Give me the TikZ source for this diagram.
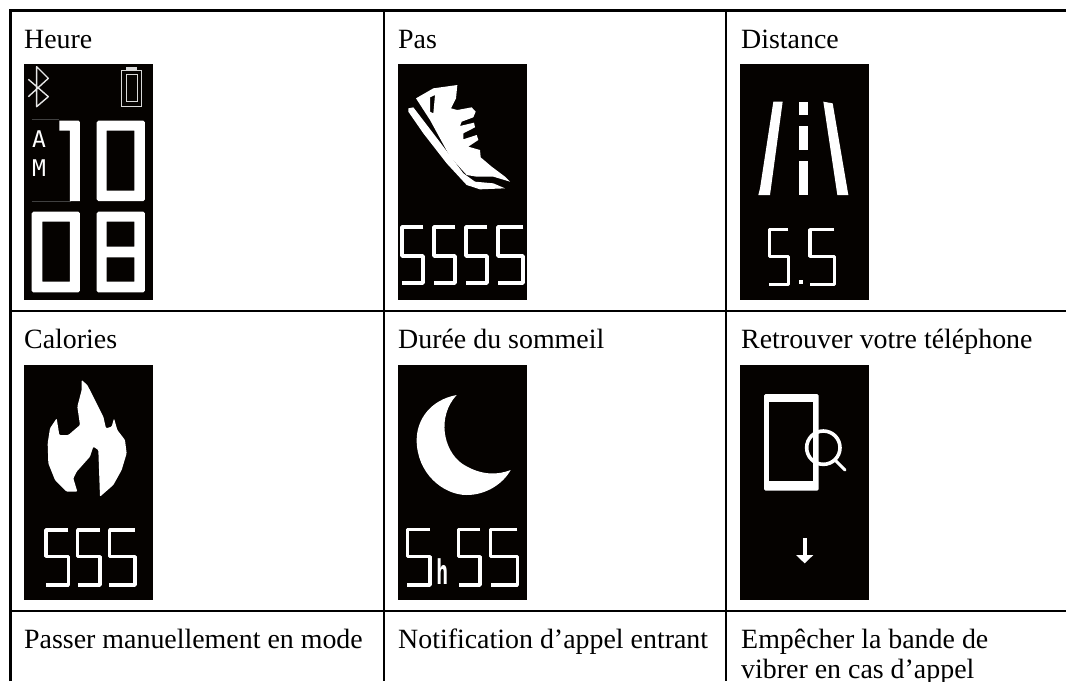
\documentclass[tikz,border=0pt]{standalone}
\usepackage{fontspec}
\setmainfont{Liberation Serif}
\newfontfamily\lcdfont{DejaVu Sans Mono}
\definecolor{screenblack}{HTML}{050200}
\newcommand{\lcdfive}[5]{\draw[lcd] (#2,#3) -- (#1,#3) -- (#1,#4) -- (#2,#4) -- (#2,#5) -- (#1,#5);}
\tikzset{
  grid/.style={line width=2.3pt,black},
  label/.style={anchor=base west,inner sep=0pt,font=\fontsize{27.9}{32}\selectfont,text=black},
  screen/.style={fill=screenblack,draw=none},
  zoomed/.style={x=0.33333pt,y=-0.33333pt},
  lcd/.style={draw=white,line width=3.3pt,line join=bevel,line cap=butt},
  thin lcd/.style={draw=white!90!black,line width=1.4pt,line join=round},
  glyph/.style={fill=white,even odd rule,draw=none},
  lcd text/.style={inner sep=0pt,text=white,font=\lcdfont\fontsize{23}{23}\selectfont}
}
\begin{document}
\begin{tikzpicture}[x=1pt,y=-1pt]
\useasboundingbox (0,0) rectangle (1066,681);
\clip (0,0) rectangle (1066,681);
\fill[white] (0,0) rectangle (1066,681);

% grid
\draw[grid] (10.5,681) -- (10.5,10.5) -- (1066,10.5);
\draw[grid] (383.7,10.5) -- (383.7,681);
\draw[grid] (725.7,10.5) -- (725.7,681);
\draw[grid] (10.5,310.7) -- (1066,310.7);
\draw[grid] (10.5,610.7) -- (1066,610.7);

% labels
\node[label] (heure) at (24,48) {Heure};
\node[label] (pas) at (398,48) {Pas};
\node[label] (distance) at (741,48) {Distance};
\node[label] (calories) at (24,348) {Calories};
\node[label] (sommeil) at (398,348) {Durée du sommeil};
\node[label] (retrouver) at (741,348) {Retrouver votre téléphone};
\node[label] (passer) at (24,648) {Passer manuellement en mode};
\node[label] (notif) at (398,648) {Notification d’appel entrant};
\node[label] (empecher) at (741,648) {Empêcher la bande de};
\node[label] (vibrer) at (741,678) {vibrer en cas d’appel};

% ---- clock
\begin{scope}[shift={(0,0)},zoomed]
\fill[screen] (72,192) rectangle (459,900);
\draw[thin lcd] (85,238) -- (145,290) -- (110,320) -- (110,200) -- (145,235) -- (85,290);
\draw[white!85!black,line width=1.4pt] (365,211) rectangle (425,319);
\draw[white!85!black,line width=0.9pt] (378,222) rectangle (412,305);
\fill[white!85!black] (378,201) rectangle (412,209);
\draw[black!75!white,line width=0.4pt] (95,358) -- (178,358);
\draw[black!75!white,line width=0.4pt] (95,604) -- (210,604) -- (210,392);
\node[lcd text] (a) at (117,416) {A};
\node[lcd text] (m) at (117,505) {M};
\fill[glyph] (178,362) -- (236,362) -- (240,367) -- (240,603) -- (210,603) -- (210,392) -- (178,392) -- cycle;
\fill[glyph] (295,362) -- (430,362) -- (435,367) -- (435,598) -- (430,603) -- (295,603) -- (290,598) -- (290,367) -- cycle
 (320,392) rectangle (403,572);
\fill[glyph] (100,635) -- (235,635) -- (240,640) -- (240,872) -- (235,877) -- (100,877) -- (95,872) -- (95,640) -- cycle
 (127,665) rectangle (210,845);
\fill[glyph] (295,635) -- (430,635) -- (435,640) -- (435,872) -- (430,877) -- (295,877) -- (290,872) -- (290,640) -- cycle
 (320,665) rectangle (403,740) (320,772) rectangle (403,845);
\end{scope}

% ---- steps
\begin{scope}[shift={(380,0)},zoomed]
\fill[screen] (54,192) rectangle (441,900);
\fill[glyph] (108,295) -- (160,265) -- (232,255) -- (228,295) -- (213,325) -- (232,330) -- (275,322) -- (287,335) -- (280,352) -- (245,365) -- (240,378) -- (282,368) -- (285,382) -- (250,400) -- (250,418) -- (290,405) -- (295,420) -- (265,440) -- (300,450) -- (302,472) -- (335,500) -- (375,530) -- (390,545) -- (340,530) -- (290,530) -- (260,525) -- (210,470) -- (150,360) -- cycle
 (150,292) -- (165,285) -- (160,340) -- (150,335) -- cycle;
\fill[white] (85,325) -- (100,322) -- (175,420) -- (250,520) -- (285,545) -- (340,550) -- (375,565) -- (300,568) -- (260,555) -- (200,490) -- (130,400) -- (85,335) -- cycle;
\begin{scope}[lcd/.append style={line width=3.7pt}]
\lcdfive{67}{130}{680}{768}{848}
\lcdfive{163}{226}{680}{768}{848}
\lcdfive{259}{322}{680}{768}{848}
\lcdfive{355}{430}{680}{768}{848}
\end{scope}
\end{scope}

% ---- distance
\begin{scope}[shift={(720,0)},zoomed]
\fill[screen] (60,192) rectangle (447,900);
\fill[white] (160,305) -- (188,305) -- (150,585) -- (115,585) -- (120,565) -- cycle;
\fill[white] (310,305) -- (338,310) -- (385,585) -- (352,585) -- cycle;
\fill[white] (237,305) rectangle (263,345);
\fill[white] (237,378) rectangle (263,450);
\fill[white] (237,482) rectangle (263,585);
\lcdfive{148}{205}{688}{770}{853}
\lcdfive{270}{343}{688}{770}{853}
\fill[white] (238,840) rectangle (248,852);
\end{scope}

% ---- calories
\begin{scope}[shift={(0,300)},zoomed]
\fill[screen] (72,195) rectangle (459,900);
\fill[white,rounded corners=1pt] (245,240) -- (262,255) -- (285,300) -- (310,350) -- (318,385) -- (335,380) -- (342,355) -- (352,390) -- (375,420) -- (380,460) -- (365,510) -- (340,555) -- (300,590) -- (295,450) -- (280,440) -- (270,470) -- (230,515) -- (220,535) -- (232,575) -- (200,575) -- (165,540) -- (145,490) -- (143,430) -- (150,385) -- (170,355) -- (178,405) -- (205,405) -- (240,375) -- (232,320) -- (245,270) -- cycle;
\lcdfive{138}{205}{690}{770}{855}
\lcdfive{233}{300}{690}{770}{855}
\lcdfive{328}{405}{690}{770}{855}
\end{scope}

% ---- sleep
\begin{scope}[shift={(380,300)},zoomed]
\fill[screen] (54,195) rectangle (441,900);
\fill[white] (230,285) .. controls (150,300) and (110,360) .. (110,420) .. controls (110,520) and (190,585) .. (260,585) .. controls (320,585) and (370,550) .. (392,510) .. controls (340,530) and (290,520) .. (245,490) .. controls (190,450) and (170,350) .. (230,285) -- cycle;
\lcdfive{82}{150}{688}{770}{855}
\node[lcd text,font=\lcdfont\bfseries\fontsize{34}{34}\selectfont,xscale=0.6,transform shape] (h) at (188,815) {h};
\lcdfive{236}{300}{688}{770}{855}
\lcdfive{332}{412}{688}{770}{855}
\end{scope}

% ---- phone
\begin{scope}[shift={(720,300)},zoomed]
\fill[screen] (60,195) rectangle (447,900);
\fill[glyph,rounded corners=1.5pt] (132,282) rectangle (296,572);
\fill[screenblack] (148,305) rectangle (280,542);
\draw[white,line width=3.6pt] (310,443) circle[radius=50];
\draw[white,line width=3pt,line cap=round] (345,480) -- (375,510);
\fill[white] (248,715) rectangle (262,765);
\fill[white] (228,765) -- (280,765) -- (254,790) -- cycle;
\end{scope}
\end{tikzpicture}
\end{document}
